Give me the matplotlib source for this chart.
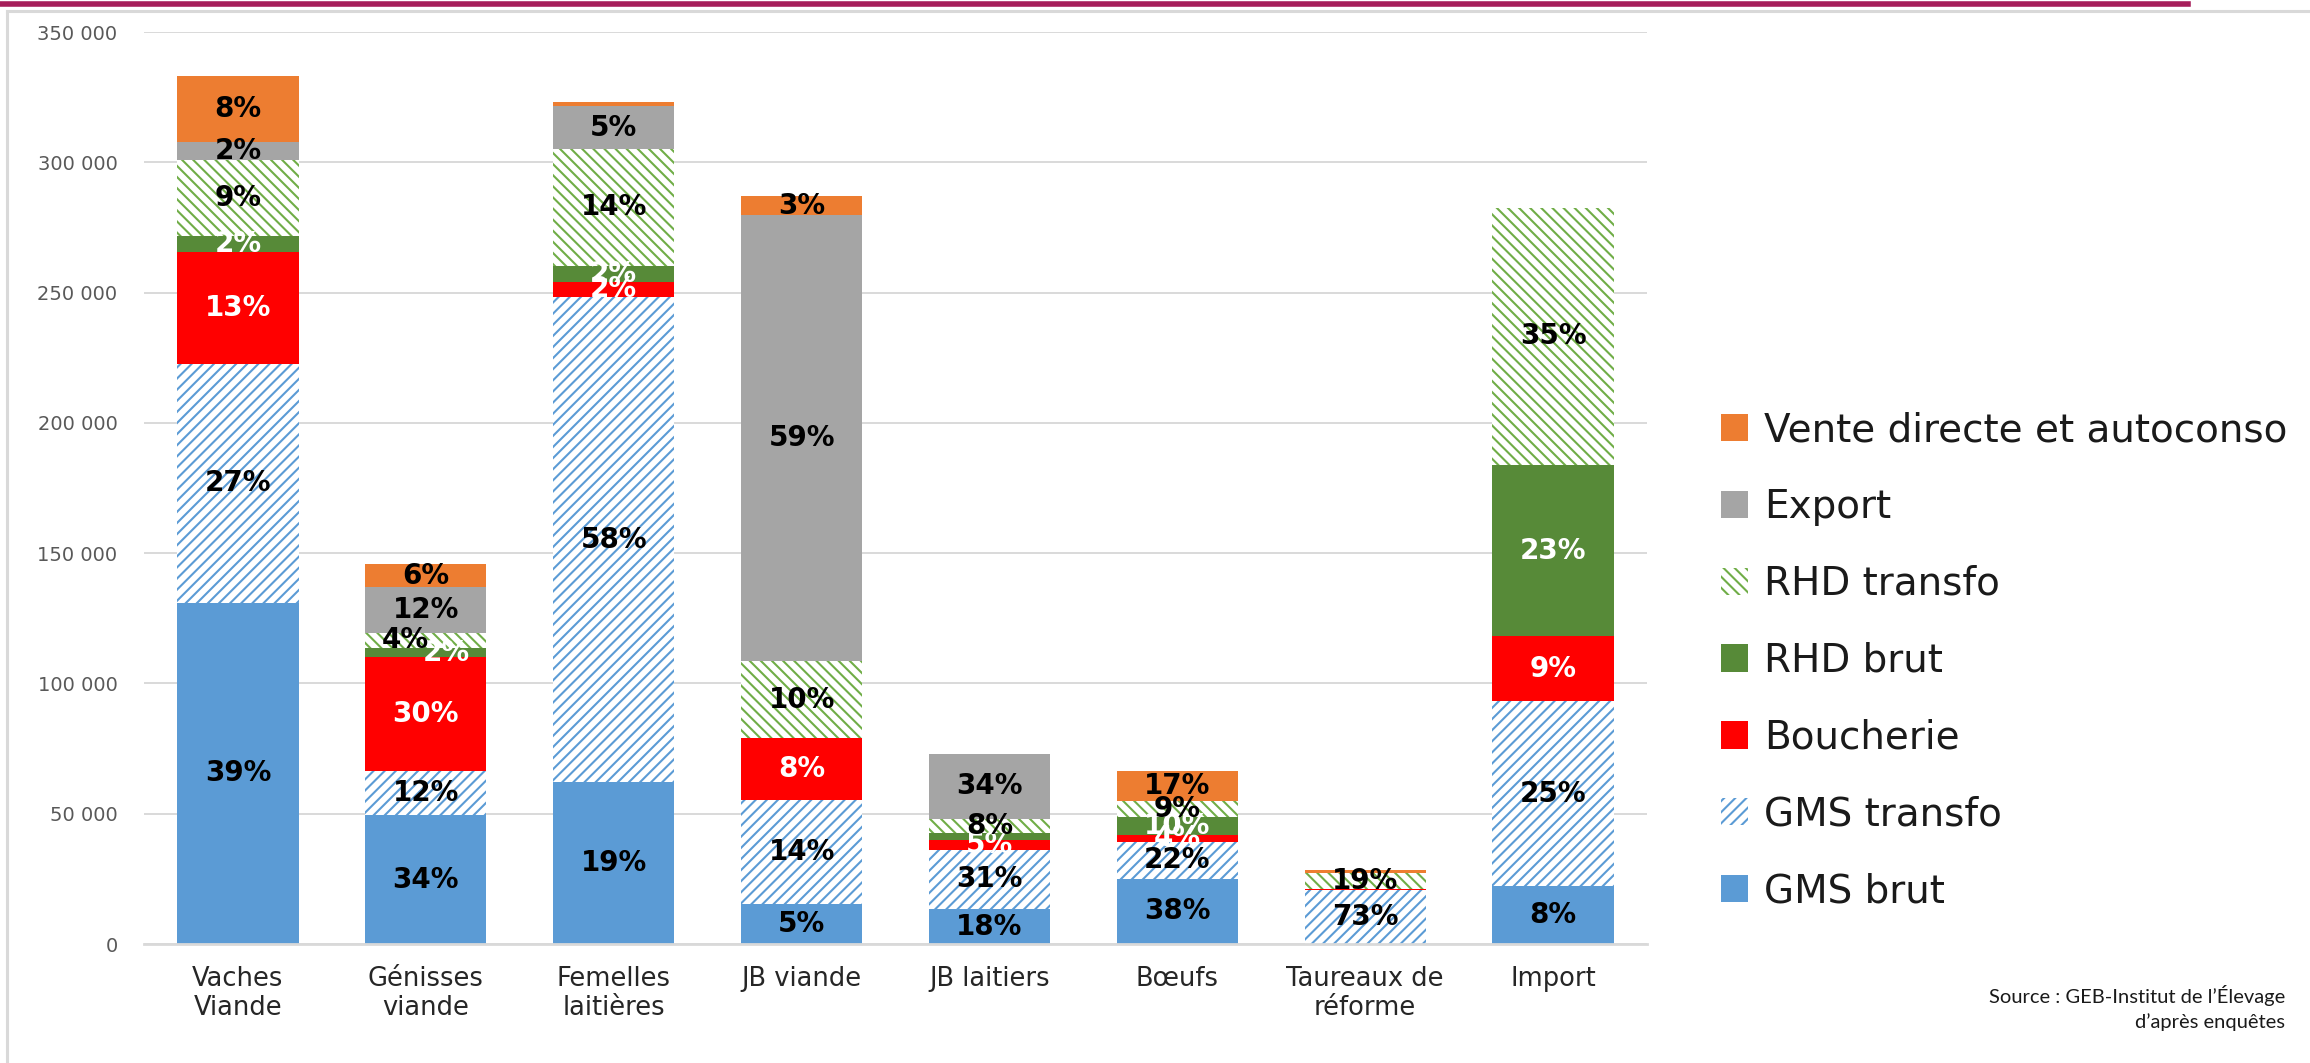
import matplotlib
matplotlib.use("Agg")
import matplotlib.pyplot as plt
from matplotlib.patches import Patch
from matplotlib.lines import Line2D
from matplotlib.ticker import FuncFormatter, MultipleLocator
import numpy as np

# ---------------- data ----------------
categories = ["Vaches\nViande", "Génisses\nviande", "Femelles\nlaitières", "JB viande",
              "JB laitiers", "Bœufs", "Taureaux de\nréforme", "Import"]

gms_brut    = [131000, 49500, 62200, 15200, 13400, 25000, 0, 22300]
gms_transfo = [91600, 16900, 186000, 40100, 22800, 14300, 20700, 70900]
boucherie   = [43000, 43600, 6000, 23800, 3700, 2600, 400, 24900]
rhd_brut    = [6100, 3500, 6100, 0, 2600, 7000, 0, 65600]
rhd_transfo = [29000, 6000, 44700, 29400, 5500, 5800, 6200, 98900]
export      = [7100, 17500, 16500, 171100, 24900, 0, 0, 0]
vente       = [25200, 8800, 1800, 7600, 0, 11800, 1000, 0]

gms_brut_pct    = ["39%", "34%", "19%", "5%", "18%", "38%", None, "8%"]
gms_transfo_pct = ["27%", "12%", "58%", "14%", "31%", "22%", "73%", "25%"]
boucherie_pct   = ["13%", "30%", "2%", "8%", "5%", "4%", None, "9%"]
rhd_brut_pct    = ["2%", "2%", "2%", None, None, "10%", None, "23%"]
rhd_transfo_pct = ["9%", "4%", "14%", "10%", "8%", "9%", "19%", "35%"]
export_pct      = ["2%", "12%", "5%", "59%", "34%", None, None, None]
vente_pct       = ["8%", "6%", None, "3%", None, "17%", None, None]

series_names = ["GMS brut", "GMS transfo", "Boucherie", "RHD brut", "RHD transfo",
                "Export", "Vente directe et autoconso"]
series_vals = [gms_brut, gms_transfo, boucherie, rhd_brut, rhd_transfo, export, vente]
series_pcts = [gms_brut_pct, gms_transfo_pct, boucherie_pct, rhd_brut_pct,
               rhd_transfo_pct, export_pct, vente_pct]

# ---------------- styles ----------------
BLUE = "#5B9BD5"
RED = "#FF0000"
DKGREEN = "#578A38"
LTGREEN = "#70AD47"
GRAY = "#A5A5A5"
ORANGE = "#ED7D31"

styles = [
    dict(facecolor=BLUE, edgecolor=BLUE, hatch=None),
    dict(facecolor="white", edgecolor=BLUE, hatch="///"),
    dict(facecolor=RED, edgecolor=RED, hatch=None),
    dict(facecolor=DKGREEN, edgecolor=DKGREEN, hatch=None),
    dict(facecolor="white", edgecolor=LTGREEN, hatch="\\\\\\"),
    dict(facecolor=GRAY, edgecolor=GRAY, hatch=None),
    dict(facecolor=ORANGE, edgecolor=ORANGE, hatch=None),
]
label_colors = ["black", "black", "white", "white", "black", "black", "black"]
# small horizontal nudges for overlapping labels (category units)
nudges = {(4, 1): -0.11, (3, 1): 0.11}

plt.rcParams["hatch.linewidth"] = 1.5
plt.rcParams["font.family"] = ["DejaVu Sans"]

W, H = 2310, 1063
fig = plt.figure(figsize=(W / 100, H / 100), dpi=100)
ax = fig.add_axes([144 / W, 119 / H, 1503 / W, 912 / H])

x = np.arange(len(categories))
bottom = np.zeros(len(categories))
handles = []
for i, (name, vals, pcts, st) in enumerate(zip(series_names, series_vals, series_pcts, styles)):
    vals = np.array(vals, dtype=float)
    ax.bar(x, vals, width=0.645, bottom=bottom, facecolor=st["facecolor"],
           edgecolor=st["edgecolor"], hatch=st["hatch"], linewidth=0, zorder=2)
    for j, (v, p) in enumerate(zip(vals, pcts)):
        if p is None or v <= 0:
            continue
        xx = x[j] + nudges.get((i, j), 0.0)
        ax.text(xx, bottom[j] + v / 2, p, ha="center", va="center",
                fontsize=20, fontweight="bold", color=label_colors[i], zorder=5)
    bottom += vals
    handles.append(Patch(facecolor=st["facecolor"], edgecolor=st["edgecolor"],
                         hatch=st["hatch"], linewidth=0, label=name))

ax.set_xlim(-0.5, 7.5)
ax.set_ylim(0, 350000)
ax.yaxis.set_major_locator(MultipleLocator(50000))
ax.yaxis.set_major_formatter(FuncFormatter(lambda v, p: f"{int(v):,}".replace(",", " ")))
ax.set_axisbelow(True)
ax.yaxis.grid(True, color="#D9D9D9", linewidth=1.4, zorder=0)
for s in ["top", "right", "left"]:
    ax.spines[s].set_visible(False)
ax.spines["bottom"].set_color("#D9D9D9")
ax.spines["bottom"].set_linewidth(2)
ax.spines["bottom"].set_zorder(3)
ax.tick_params(axis="both", length=0)
ax.tick_params(axis="y", labelsize=14, labelcolor="#595959", pad=19)
ax.set_xticks(x)
ax.set_xticklabels(categories, fontsize=18.5, color="#262626", linespacing=1.15)
ax.tick_params(axis="x", pad=16)

# legend (top entry first)
leg = fig.legend(handles=handles[::-1], loc="center left",
                 bbox_to_anchor=(1721 / W, 1 - 660.7 / H), frameon=False,
                 fontsize=28, handlelength=0.7, handleheight=0.7,
                 handletextpad=0.4, labelspacing=1.0, borderpad=0, borderaxespad=0)
for t in leg.get_texts():
    t.set_color("#1a1a1a")

# source note
fig.text(2285 / W, 1 - 996 / H, "Source : GEB-Institut de l\u2019\u00c9levage",
         ha="right", va="center", fontsize=14.5, family="Lato", color="#1a1a1a")
fig.text(2285 / W, 1 - 1022 / H, "d\u2019apr\u00e8s enqu\u00eates",
         ha="right", va="center", fontsize=14.5, family="Lato", color="#1a1a1a")

# decorative frame and top band
fig.add_artist(Line2D([7 / W, 7 / W], [0, 1 - 11 / H], transform=fig.transFigure,
                      color="#D9D9D9", linewidth=2.2))
fig.add_artist(Line2D([7 / W, 1], [1 - 11 / H, 1 - 11 / H], transform=fig.transFigure,
                      color="#D9D9D9", linewidth=2.2))
fig.add_artist(Line2D([0, 2188 / W], [1 - 4 / H, 1 - 4 / H], transform=fig.transFigure,
                      color="#A61E5A", linewidth=4))

fig.savefig("out.png", dpi=100, facecolor="white")
